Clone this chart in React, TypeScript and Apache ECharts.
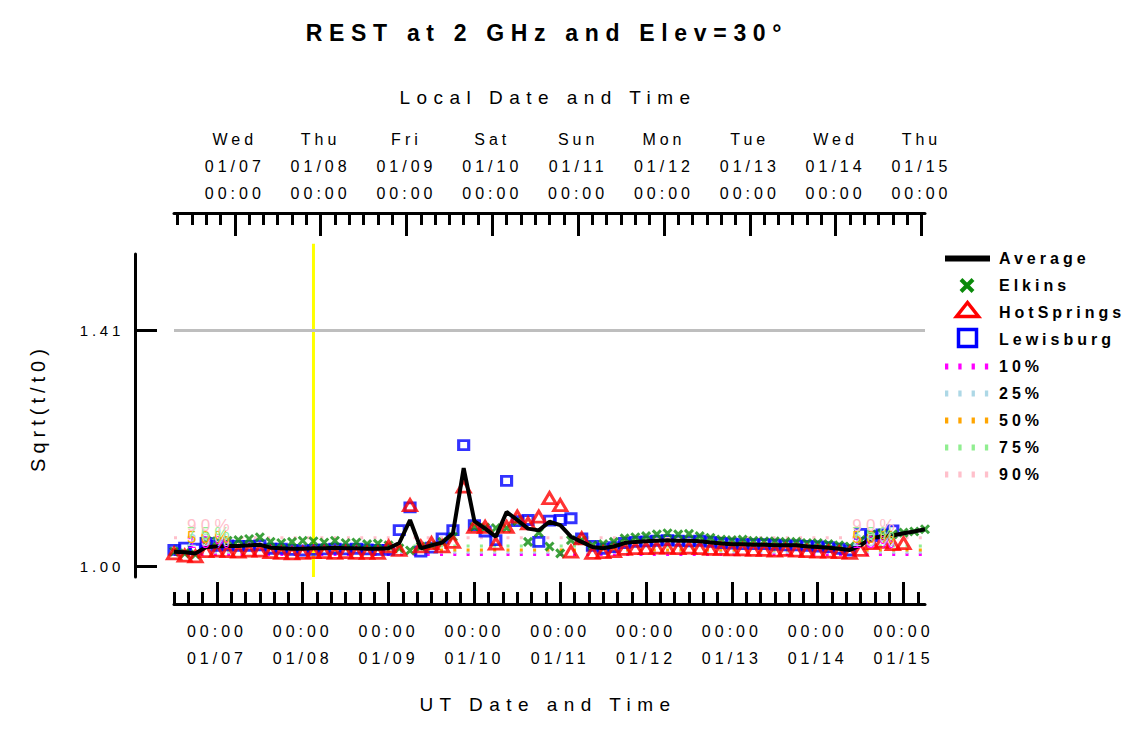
import React, { useEffect, useRef } from "react";
import * as echarts from "echarts";

// hours since 2015-01-07 00:00 UT
const T = [-12, -9, -6, -3, 0, 3, 6, 9, 12, 15, 18, 21, 24, 27, 30, 33, 36, 39, 42, 45, 48, 51, 54, 57, 60, 63, 66, 69, 72, 75, 78, 81, 84, 87, 90, 93, 96, 99, 102, 105, 108, 111, 114, 117, 120, 123, 126, 129, 132, 135, 138, 141, 144, 147, 150, 153, 156, 159, 162, 165, 168, 171, 174, 177, 180, 183, 186, 189, 192, 195, 198];

const AVERAGE = [1.025, 1.024, 1.022, 1.033, 1.034, 1.035, 1.035, 1.036, 1.037, 1.032, 1.031, 1.030, 1.030, 1.031, 1.031, 1.032, 1.031, 1.031, 1.030, 1.030, 1.031, 1.040, 1.080, 1.031, 1.036, 1.041, 1.057, 1.170, 1.078, 1.065, 1.051, 1.094, 1.080, 1.065, 1.062, 1.077, 1.071, 1.051, 1.042, 1.033, 1.031, 1.034, 1.040, 1.042, 1.043, 1.044, 1.045, 1.044, 1.044, 1.043, 1.041, 1.039, 1.038, 1.038, 1.037, 1.037, 1.036, 1.036, 1.036, 1.034, 1.033, 1.032, 1.030, 1.028, 1.036, 1.049, 1.051, 1.053, 1.057, 1.060, 1.064];

const ELKINS = [1.025, 1.022, 1.020, 1.045, 1.043, 1.044, 1.045, 1.047, 1.050, 1.042, 1.040, 1.042, 1.044, 1.043, 1.041, 1.044, 1.040, 1.041, 1.038, 1.039, 1.036, 1.031, 1.027, 1.034, 1.036, 1.042, 1.051, null, 1.068, 1.067, 1.066, 1.066, 1.078, 1.042, 1.058, 1.034, 1.022, 1.045, 1.045, 1.036, 1.038, 1.042, 1.048, 1.050, 1.052, 1.055, 1.057, 1.055, 1.056, 1.052, 1.049, 1.046, 1.045, 1.046, 1.044, 1.043, 1.043, 1.042, 1.042, 1.040, 1.040, 1.038, 1.036, 1.034, 1.045, 1.055, 1.057, 1.055, 1.058, 1.060, 1.064];

const HOTSPRINGS = [1.022, 1.018, 1.017, 1.026, 1.027, 1.026, 1.025, 1.027, 1.027, 1.024, 1.023, 1.022, 1.023, 1.024, 1.024, 1.023, 1.024, 1.023, 1.023, 1.023, 1.034, 1.028, 1.106, 1.034, 1.040, 1.034, 1.042, 1.138, 1.068, 1.068, 1.039, 1.068, 1.086, 1.074, 1.086, 1.118, 1.106, 1.025, 1.048, 1.023, 1.024, 1.026, 1.030, 1.031, 1.031, 1.032, 1.032, 1.031, 1.032, 1.031, 1.030, 1.030, 1.029, 1.029, 1.028, 1.028, 1.027, 1.028, 1.027, 1.026, 1.025, 1.025, 1.024, 1.023, 1.028, 1.040, 1.042, 1.038, 1.040, null, null];

const LEWISBURG = [1.028, 1.032, 1.030, 1.040, 1.035, 1.036, 1.035, 1.035, 1.036, 1.030, 1.030, 1.028, 1.027, 1.028, 1.029, 1.030, 1.029, 1.030, 1.029, 1.028, 1.028, 1.0625, 1.102, 1.025, 1.032, 1.048, 1.0625, 1.210, 1.071, 1.060, 1.045, 1.148, 1.078, 1.080, 1.042, 1.079, 1.080, 1.083, 1.048, 1.035, 1.030, 1.033, 1.040, 1.042, 1.043, 1.044, 1.045, 1.044, 1.043, 1.044, 1.042, 1.040, 1.039, 1.038, 1.038, 1.038, 1.037, 1.036, 1.036, 1.035, 1.034, 1.033, 1.030, 1.027, 1.056, 1.052, 1.055, 1.062, null, null, null];

const PCT_NAMES = ["10%", "25%", "50%", "75%", "90%"];
const PCT_LEVELS = [1.02, 1.024, 1.028, 1.035, 1.049];
const PCT_COLORS = ["#ff00ff", "#add8e6", "#ffa500", "#90ee90", "#ffc0cb"];
const PCT_LABEL_T = [-8.5, 177.5];

const YELLOW_T = 27;
const YELLOW_TOP = 1.56;
const X_MIN = -12;
const X_MAX = 198;
const Y_MIN = 0.981;
const Y_MAX = 1.542;
const GRID_VALUE = 1.41;
const Y_TICKS = [1.0, 1.41];
const Y_LABELS = ["1.00", "1.41"];

const UT_MAJOR = [0, 24, 48, 72, 96, 120, 144, 168, 192];
const UT_LABELS = ["00:00\n01/07", "00:00\n01/08", "00:00\n01/09", "00:00\n01/10", "00:00\n01/11", "00:00\n01/12", "00:00\n01/13", "00:00\n01/14", "00:00\n01/15"];
const LOCAL_MAJOR = [5, 29, 53, 77, 101, 125, 149, 173, 197];
const LOCAL_LABELS = ["Wed\n01/07\n00:00", "Thu\n01/08\n00:00", "Fri\n01/09\n00:00", "Sat\n01/10\n00:00", "Sun\n01/11\n00:00", "Mon\n01/12\n00:00", "Tue\n01/13\n00:00", "Wed\n01/14\n00:00", "Thu\n01/15\n00:00"];

const LEGEND_NAMES = ["Average", "Elkins", "HotSprings", "Lewisburg", ...PCT_NAMES];

const GREEN = "#0a8a0a";
const RED = "#ff0000";
const BLUE = "#0000ff";
const FONT = "Liberation Sans";

function stepTicks(from: number, to: number, step: number) {
  const out: number[] = [];
  for (let v = from; v <= to; v += step) out.push(v);
  return out;
}
const UT_MINOR = stepTicks(-12, 196, 4);
const LOCAL_MINOR = stepTicks(-11, 197, 4);

function pairs(vals: (number | null)[]) {
  const out: number[][] = [];
  T.forEach((t, i) => {
    if (vals[i] != null) out.push([t, vals[i] as number]);
  });
  return out;
}

const CSS = `
.rk-chart text { letter-spacing: 0.25em; }
.rk-chart text[style*="19px"] { letter-spacing: 0.34em; }
.rk-chart text[style*="23px"] { letter-spacing: 0.29em; }
`;

function buildOption() {
  const tickStyle = { color: "#000", width: 3 };
  const xBase = (position: string, offset: number) => ({
    type: "value",
    min: X_MIN,
    max: X_MAX,
    position,
    offset,
    splitLine: { show: false },
  });
  const labelStyle = {
    fontSize: 16,
    lineHeight: 27,
    color: "#000",
    fontFamily: FONT,
  };

  const legendRows = LEGEND_NAMES.map((_, i) => 258.5 + 27 * i);
  const graphics: any[] = [
    {
      type: "text",
      x: 547,
      y: 33,
      style: { text: "REST at 2 GHz and Elev=30°", fontSize: 23, fontWeight: "bold", fontFamily: FONT, fill: "#000", align: "center", verticalAlign: "middle", textAlign: "center", textVerticalAlign: "middle" },
    },
    {
      type: "text",
      x: 548,
      y: 97,
      style: { text: "Local Date and Time", fontSize: 19, fontFamily: FONT, fill: "#000", align: "center", verticalAlign: "middle", textAlign: "center", textVerticalAlign: "middle" },
    },
    {
      type: "text",
      x: 548,
      y: 704,
      style: { text: "UT Date and Time", fontSize: 19, fontFamily: FONT, fill: "#000", align: "center", verticalAlign: "middle", textAlign: "center", textVerticalAlign: "middle" },
    },
    {
      type: "text",
      x: 38,
      y: 408,
      rotation: Math.PI / 2,
      style: { text: "Sqrt(t/t0)", fontSize: 20, fontFamily: FONT, fill: "#000", align: "center", verticalAlign: "middle", textAlign: "center", textVerticalAlign: "middle" },
    },
    // legend icons
    { type: "rect", shape: { x: 945, y: legendRows[0] - 3, width: 45, height: 6 }, style: { fill: "#000" } },
    { type: "line", shape: { x1: 961, y1: legendRows[1] - 6, x2: 973, y2: legendRows[1] + 6 }, style: { stroke: GREEN, lineWidth: 4 } },
    { type: "line", shape: { x1: 973, y1: legendRows[1] - 6, x2: 961, y2: legendRows[1] + 6 }, style: { stroke: GREEN, lineWidth: 4 } },
    {
      type: "polygon",
      shape: { points: [[967.5, legendRows[2] - 10], [956.5, legendRows[2] + 4], [978.5, legendRows[2] + 4]] },
      style: { stroke: RED, lineWidth: 3.5, fill: "none" },
    },
    { type: "rect", shape: { x: 958.5, y: legendRows[3] - 10, width: 18, height: 17 }, style: { stroke: BLUE, lineWidth: 3.5, fill: "none" } },
  ];
  PCT_NAMES.forEach((_, i) => {
    const y = legendRows[4 + i];
    graphics.push({
      type: "line",
      shape: { x1: 945, y1: y, x2: 990, y2: y },
      style: { stroke: PCT_COLORS[i], lineWidth: 6, lineDash: [3.3, 10] },
    });
  });
  LEGEND_NAMES.forEach((name, i) => {
    graphics.push({
      type: "text",
      x: 999,
      y: legendRows[i],
      style: { text: name, fontSize: 16, fontWeight: "bold", fontFamily: FONT, fill: "#000", align: "left", verticalAlign: "middle", textAlign: "left", textVerticalAlign: "middle" },
    });
  });

  const series: any[] = [];
  series.push({
    type: "custom",
    name: "now",
    z: 1,
    clip: false,
    silent: true,
    encode: { x: 0, y: [1, 2] },
    data: [[YELLOW_T, Y_MIN, YELLOW_TOP]],
    renderItem: (params: any, api: any) => {
      const p1 = api.coord([api.value(0), api.value(1)]);
      const p2 = api.coord([api.value(0), api.value(2)]);
      return {
        type: "line",
        shape: { x1: p1[0], y1: p1[1], x2: p2[0], y2: p2[1] },
        style: { stroke: "#ffff00", lineWidth: 3 },
      };
    },
  });
  PCT_NAMES.forEach((name, i) => {
    series.push({
      type: "line",
      name,
      z: 2,
      silent: true,
      showSymbol: false,
      symbol: "none",
      data: [[X_MIN, PCT_LEVELS[i]], [X_MAX, PCT_LEVELS[i]]],
      lineStyle: { color: PCT_COLORS[i], width: 3, type: [3, 10.3] },
      markLine:
        i === 0
          ? {
              silent: true,
              symbol: "none",
              label: { show: false },
              lineStyle: { color: "#bebebe", width: 3, type: "solid" },
              data: [{ yAxis: GRID_VALUE }],
            }
          : undefined,
    });
  });
  series.push({
    type: "scatter",
    name: "Lewisburg",
    z: 3,
    symbol: "rect",
    symbolSize: [10, 9],
    itemStyle: { color: "rgba(0,0,0,0)", borderColor: BLUE, borderWidth: 3 },
    data: pairs(LEWISBURG),
  });
  series.push({
    type: "scatter",
    name: "Elkins",
    z: 3,
    symbol: "path://M0 0L10 10M10 0L0 10",
    symbolSize: 8,
    itemStyle: { color: "rgba(0,0,0,0)", borderColor: GREEN, borderWidth: 3 },
    data: pairs(ELKINS),
  });
  series.push({
    type: "scatter",
    name: "HotSprings",
    z: 3,
    symbol: "triangle",
    symbolSize: [13, 11],
    itemStyle: { color: "rgba(0,0,0,0)", borderColor: RED, borderWidth: 3 },
    data: pairs(HOTSPRINGS),
  });
  series.push({
    type: "line",
    name: "Average",
    z: 4,
    symbol: "none",
    showSymbol: false,
    lineStyle: { color: "#000", width: 4 },
    data: pairs(AVERAGE),
  });
  PCT_NAMES.forEach((name, i) => {
    series.push({
      type: "scatter",
      name: name + " label",
      z: 5,
      silent: true,
      symbol: "circle",
      symbolSize: 1,
      itemStyle: { color: "rgba(0,0,0,0)" },
      label: {
        show: true,
        position: "right",
        distance: 0,
        offset: [0, -12],
        formatter: name,
        fontSize: 17,
        fontFamily: FONT,
        color: PCT_COLORS[i],
        opacity: 1,
      },
      data: PCT_LABEL_T.map((t) => [t, PCT_LEVELS[i]]),
    });
  });

  return {
    animation: false,
    backgroundColor: "#fff",
    textStyle: { fontFamily: FONT },
    grid: { left: 174, top: 254, width: 751, height: 323, containLabel: false },
    xAxis: [
      {
        ...xBase("bottom", 27),
        axisLine: { show: true, onZero: false, lineStyle: tickStyle },
        axisTick: { show: true, inside: true, length: 12, lineStyle: tickStyle, customValues: UT_MINOR },
        axisLabel: { show: false },
      },
      {
        ...xBase("bottom", 27),
        axisLine: { show: false, onZero: false },
        axisTick: { show: true, inside: true, length: 22, lineStyle: tickStyle, customValues: UT_MAJOR },
        axisLabel: {
          show: true,
          ...labelStyle,
          margin: 14,
          customValues: UT_MAJOR,
          formatter: (v: number) => UT_LABELS[UT_MAJOR.indexOf(Math.round(v))] ?? "",
        },
      },
      {
        ...xBase("top", 41),
        axisLine: { show: true, onZero: false, lineStyle: tickStyle },
        axisTick: { show: true, inside: true, length: 12, lineStyle: tickStyle, customValues: LOCAL_MINOR },
        axisLabel: { show: false },
      },
      {
        ...xBase("top", 41),
        axisLine: { show: false, onZero: false },
        axisTick: { show: true, inside: true, length: 23, lineStyle: tickStyle, customValues: LOCAL_MAJOR },
        axisLabel: {
          show: true,
          ...labelStyle,
          margin: 6,
          customValues: LOCAL_MAJOR,
          formatter: (v: number) => LOCAL_LABELS[LOCAL_MAJOR.indexOf(Math.round(v))] ?? "",
        },
      },
    ],
    yAxis: {
      type: "value",
      min: Y_MIN,
      max: Y_MAX,
      position: "left",
      offset: 39,
      splitLine: { show: false },
      axisLine: { show: true, onZero: false, lineStyle: tickStyle },
      axisTick: { show: true, inside: true, length: 22, lineStyle: tickStyle, customValues: Y_TICKS },
      axisLabel: {
        show: true,
        fontSize: 15,
        color: "#000",
        fontFamily: FONT,
        margin: 11,
        customValues: Y_TICKS,
        formatter: (v: number) => Y_LABELS[Y_TICKS.findIndex((t) => Math.abs(t - v) < 1e-6)] ?? "",
      },
    },
    graphic: graphics,
    series,
  };
}

export default function App() {
  const ref = useRef<HTMLDivElement>(null);
  useEffect(() => {
    if (!ref.current) return;
    const chart = echarts.init(ref.current, undefined, { renderer: "svg" });
    chart.setOption(buildOption() as any);
    return () => chart.dispose();
  }, []);
  return (
    <>
      <style>{CSS}</style>
      <div
        ref={ref}
        className="rk-chart"
        style={{ position: "absolute", left: 0, top: 0, width: 1125, height: 731, background: "#fff" }}
      />
    </>
  );
}
